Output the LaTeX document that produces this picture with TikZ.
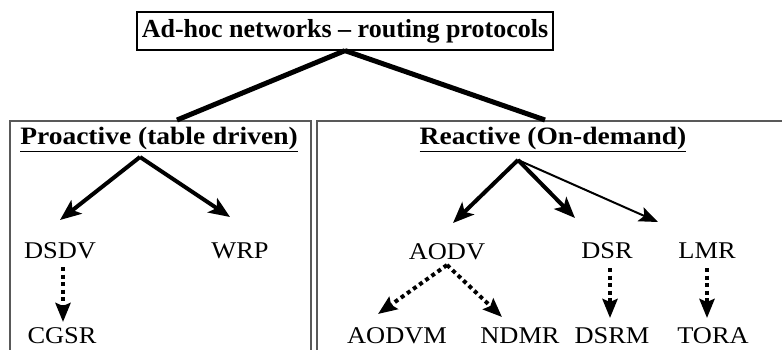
\documentclass[tikz,border=0pt]{standalone}
\usepackage{fontspec}
\setmainfont{Liberation Serif}
\newfontfamily\regfont{Liberation Serif}[FakeStretch=1.1]
\newfontfamily\hdrfont{Liberation Serif}[FakeStretch=1.1]
\usetikzlibrary{arrows.meta}
\tikzset{
  lbl/.style={font=\regfont\fontsize{24}{24}\selectfont, inner sep=0pt, anchor=center},
  hdr/.style={font=\hdrfont\bfseries\fontsize{25}{25}\selectfont, inner sep=0pt},
  topbox/.style={draw=black, line width=1.2pt, font=\bfseries\fontsize{26}{26}\selectfont,
    minimum width=416pt, minimum height=38pt, inner sep=0pt},
  grpbox/.style={draw=black!65, line width=1.5pt},
  thick link/.style={line width=5pt},
  solidarrow/.style={line width=4pt, -{Stealth[length=21pt,width=17pt,inset=5pt]}},
  thinarrow/.style={line width=2pt, -{Stealth[length=19pt,width=15pt,inset=4pt]}},
  dotarrow/.style={line width=4pt, dash pattern=on 4pt off 3.5pt,
    -{Stealth[length=19pt,width=15pt,inset=3pt]}},
}
\begin{document}
\begin{tikzpicture}[x=1pt,y=-1pt]
\useasboundingbox (0,0) rectangle (782,349);
\clip (0,0) rectangle (782,349);
% group boxes
\draw[grpbox] (10,360) -- (10,121) -- (311,121) -- (311,360);
\draw[grpbox] (317,360) -- (317,121) -- (790,121);
% title
\node[topbox] (title) at (345,31) {Ad-hoc networks -- routing protocols};
\node[hdr] (pro) at (159,139) {\underline{Proactive (table driven)}};
\node[hdr] (rea) at (553,139) {\underline{Reactive (On-demand)}};
\coordinate (proTop) at (177,120);
\coordinate (reaTop) at (545,120);
\draw[thick link] (title.south) -- (proTop);
\draw[thick link] (title.south) -- (reaTop);
% nodes
\node[lbl] (DSDV) at (60,251) {DSDV};
\node[lbl] (WRP) at (240,251) {WRP};
\node[lbl] (CGSR) at (62,336) {CGSR};
\node[lbl] (AODV) at (447,252) {AODV};
\node[lbl] (DSR) at (607,251) {DSR};
\node[lbl] (LMR) at (707,251) {LMR};
\node[lbl] (AODVM) at (397,336) {AODVM};
\node[lbl] (NDMR) at (520,336) {NDMR};
\node[lbl] (DSRM) at (612,336) {DSRM};
\node[lbl] (TORA) at (713,336) {TORA};
% apex and tips
\coordinate (pA) at (140,157);
\coordinate (rA) at (518,160);
\coordinate (tDSDV) at (60,220);
\coordinate (tWRP) at (230,217);
\coordinate (tAODV) at (453,223);
\coordinate (tDSR) at (575,218);
\coordinate (tLMR) at (658,222);
\draw[solidarrow] (pA) -- (tDSDV);
\draw[solidarrow] (pA) -- (tWRP);
\draw[solidarrow] (rA) -- (tAODV);
\draw[solidarrow] (rA) -- (tDSR);
\draw[thinarrow] (rA) -- (tLMR);
% dotted
\coordinate (sDSDV) at (63,267);
\coordinate (eCGSR) at (63,322);
\coordinate (sAODV) at (447,265);
\coordinate (eAODVM) at (378,314);
\coordinate (eNDMR) at (502,317);
\coordinate (sDSR) at (610,268);
\coordinate (eDSRM) at (610,318);
\coordinate (sLMR) at (707,268);
\coordinate (eTORA) at (707,318);
\draw[dotarrow] (sDSDV) -- (eCGSR);
\draw[dotarrow] (sAODV) -- (eAODVM);
\draw[dotarrow] (sAODV) -- (eNDMR);
\draw[dotarrow] (sDSR) -- (eDSRM);
\draw[dotarrow] (sLMR) -- (eTORA);
\end{tikzpicture}
\end{document}
